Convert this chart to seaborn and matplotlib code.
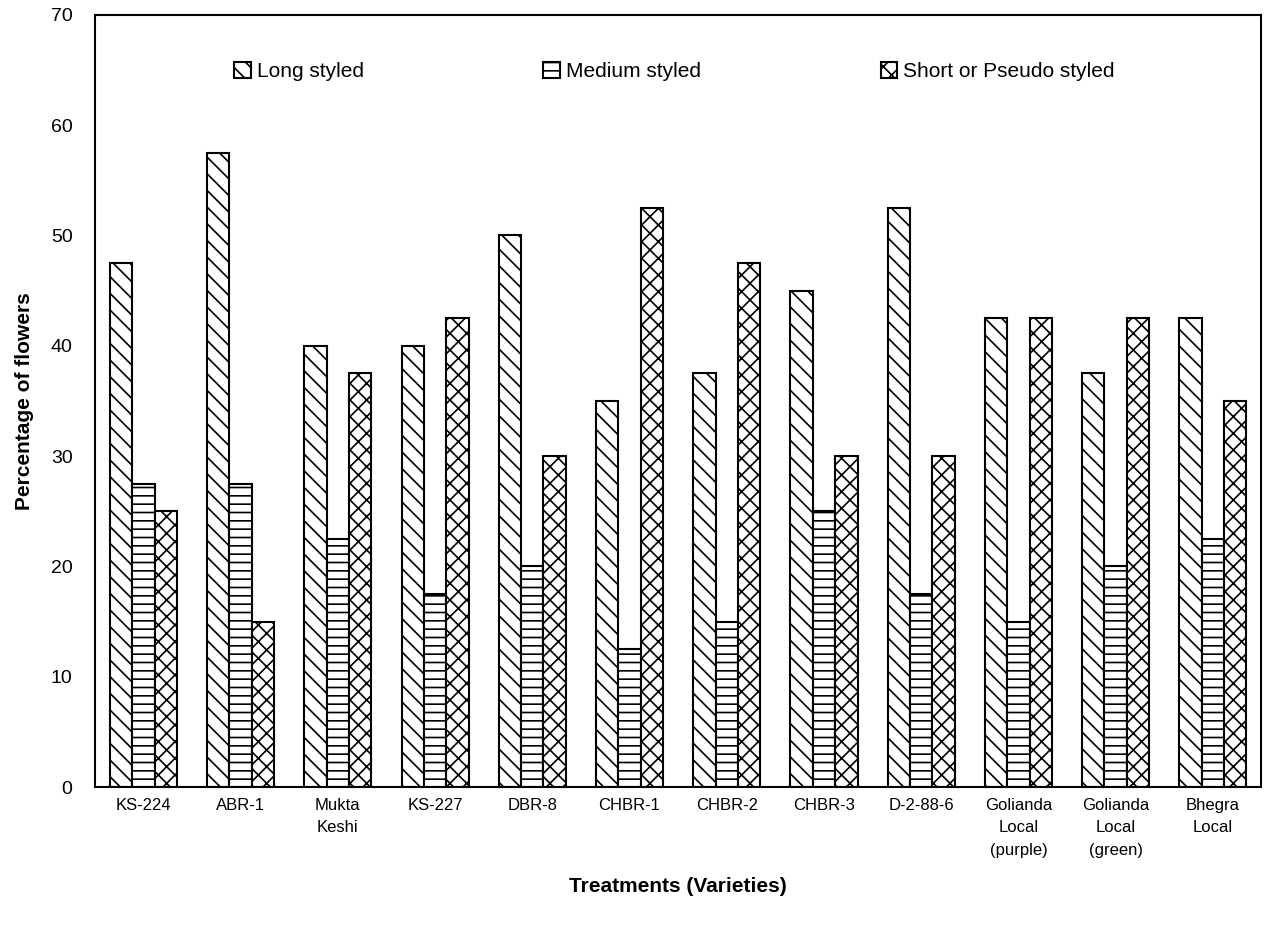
import pandas as pd
import seaborn as sns
import matplotlib.pyplot as plt

varieties = ['KS-224', 'ABR-1', 'Mukta\nKeshi', 'KS-227', 'DBR-8', 'CHBR-1', 'CHBR-2',
             'CHBR-3', 'D-2-88-6', 'Golianda\nLocal\n(purple)', 'Golianda\nLocal\n(green)',
             'Bhegra\nLocal']
long_styled = [47.5, 57.5, 40, 40, 50, 35, 37.5, 45, 52.5, 42.5, 37.5, 42.5]
medium_styled = [27.5, 27.5, 22.5, 17.5, 20, 12.5, 15, 25, 17.5, 15, 20, 22.5]
short_styled = [25, 15, 37.5, 42.5, 30, 52.5, 47.5, 30, 30, 42.5, 42.5, 35]
series = ['Long styled', 'Medium styled', 'Short or Pseudo styled']

df = pd.DataFrame({
    'variety': varieties * 3,
    'value': long_styled + medium_styled + short_styled,
    'type': [series[0]] * 12 + [series[1]] * 12 + [series[2]] * 12,
})

sns.set_style('white')
plt.rcParams['font.family'] = ['Liberation Sans', 'DejaVu Sans']
plt.rcParams['hatch.linewidth'] = 1.2
plt.rcParams['text.color'] = 'black'
plt.rcParams['axes.labelcolor'] = 'black'
plt.rcParams['xtick.color'] = 'black'
plt.rcParams['ytick.color'] = 'black'

fig = plt.figure(figsize=(12.64, 9.27), dpi=100)
ax = fig.add_axes([0.075, 0.151, 0.923, 0.833])
sns.barplot(df, x='variety', y='value', hue='type', palette=['white'] * 3,
            edgecolor='black', linewidth=1.5, width=0.69, errorbar=None, ax=ax)

hatches = ['\\\\', '--', 'xx']
for container, h in zip(ax.containers, hatches):
    for bar in container:
        bar.set_hatch(h)

ax.set_ylim(0, 70)
ax.set_yticks(range(0, 71, 10))
ax.tick_params(axis='y', labelsize=14, length=0, pad=16)
ax.tick_params(axis='x', length=0, pad=8)
for lab in ax.get_xticklabels():
    lab.set_fontsize(12)
    lab.set_linespacing(1.6)
for s in ax.spines.values():
    s.set_linewidth(1.5)
    s.set_color('black')

ax.set_xlabel('Treatments (Varieties)', fontsize=15, fontweight='bold', labelpad=14)
ax.set_ylabel('Percentage of flowers', fontsize=15, fontweight='bold', labelpad=12)

leg = ax.legend(loc='center', bbox_to_anchor=(0.497, 0.927), ncol=3, frameon=False,
                fontsize=15, handlelength=0.8, handleheight=0.8,
                handletextpad=0.3, columnspacing=8.6)
for patch, h in zip(leg.get_patches(), hatches):
    patch.set_hatch(h)

plt.savefig('out.png', dpi=100)
